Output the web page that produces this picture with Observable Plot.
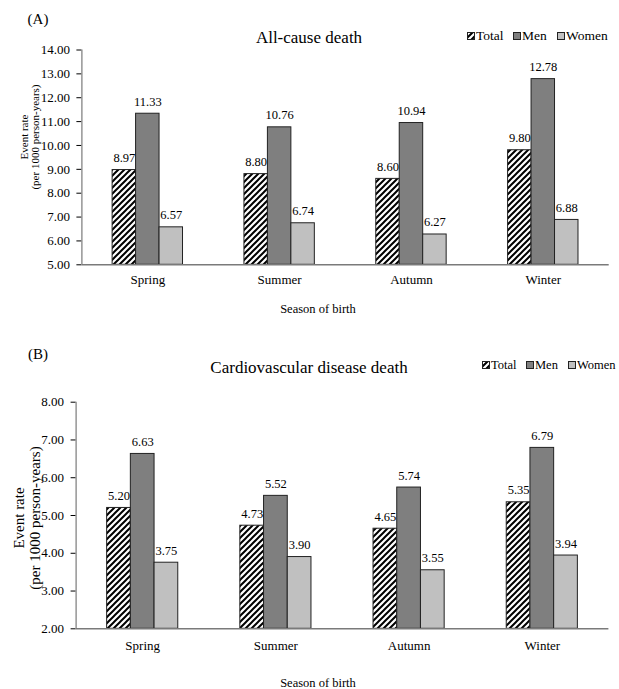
<!DOCTYPE html>
<html><head><meta charset="utf-8">
<script src="https://cdn.jsdelivr.net/npm/d3@7"></script>
<script src="https://cdn.jsdelivr.net/npm/@observablehq/plot@0.6"></script>
<style>
body{margin:0;background:#fff;}
#wrap{position:relative;width:619px;height:689px;font-family:"Liberation Serif","Times New Roman",serif;color:#000;overflow:hidden;background:#fff}
.t{position:absolute;white-space:nowrap;line-height:1;transform:translate(-50%,-50%)}
.l{position:absolute;white-space:nowrap;line-height:1;transform:translate(0,-50%)}
.panel{position:absolute;left:0}
</style></head><body>
<svg width="0" height="0" style="position:absolute">
  <defs>
    <pattern id="hatch" patternUnits="userSpaceOnUse" width="6" height="6">
      <rect width="6" height="6" fill="#fff"/>
      <path d="M-1,1 l2,-2 M0,6 l6,-6 M5,7 l2,-2" stroke="#000" stroke-width="2"/>
    </pattern>
  </defs>
</svg>
<div id="wrap"></div>
<script>
// ---- data ----
const seasons = ["Spring", "Summer", "Autumn", "Winter"];
const groups = ["Total", "Men", "Women"];
const allCauseTotal = [8.97, 8.80, 8.60, 9.80];
const allCauseMen   = [11.33, 10.76, 10.94, 12.78];
const allCauseWomen = [6.57, 6.74, 6.27, 6.88];
const cvdTotal = [5.20, 4.73, 4.65, 5.35];
const cvdMen   = [6.63, 5.52, 5.74, 6.79];
const cvdWomen = [3.75, 3.90, 3.55, 3.94];
const ticksA = [5, 6, 7, 8, 9, 10, 11, 12, 13, 14];
const ticksB = [2, 3, 4, 5, 6, 7, 8];

const wrap = document.getElementById("wrap");
const fills = {Total: "url(#hatch)", Men: "#7f7f7f", Women: "#c0c0c0"};
const offs = {Total: -1, Men: 0, Women: 1};
const bw = 0.178;

function panel(opts) {
  const vals = {Total: opts.total, Men: opts.men, Women: opts.women};
  const rows = [];
  seasons.forEach((s, i) => groups.forEach(g => rows.push({season: s, i, group: g, v: vals[g][i]})));
  const cx = d => d.i + offs[d.group] * bw;
  const marks = groups.map(g => Plot.rectY(rows.filter(d => d.group === g), {
    x1: d => cx(d) - bw / 2, x2: d => cx(d) + bw / 2, y1: opts.yMin, y2: "v",
    fill: fills[g], stroke: "#222", strokeWidth: 1
  }));
  marks.push(
    Plot.text(rows, {x: cx, y: "v", text: d => d.v.toFixed(2), dy: -12, fontSize: 12.5}),
    Plot.ruleY([opts.yMin], {stroke: "#7a7a7a", strokeWidth: 1.5}),
    Plot.ruleX([-0.5], {y1: opts.yMin, y2: opts.yMax, stroke: "#7a7a7a", strokeWidth: 1.2})
  );
  const svg = Plot.plot({
    width: 619, height: opts.height,
    marginTop: opts.mt, marginBottom: opts.mb, marginLeft: opts.ml, marginRight: opts.mr,
    style: {fontFamily: '"Liberation Serif","Times New Roman",serif', fontSize: "13px", background: "transparent", color: "#000"},
    x: {type: "linear", domain: [-0.5, 3.5], ticks: [0, 1, 2, 3], tickFormat: i => seasons[i], tickSize: 0, tickPadding: opts.xpad, label: null},
    y: {domain: [opts.yMin, opts.yMax], ticks: opts.ticks, tickFormat: d => d.toFixed(2), tickSize: 5, tickPadding: 7, label: null},
    marks
  });
  svg.classList.add("panel");
  svg.style.top = opts.top + "px";
  wrap.appendChild(svg);
}

panel({total: allCauseTotal, men: allCauseMen, women: allCauseWomen, yMin: 5, yMax: 14, ticks: ticksA,
  top: 0, height: 330, mt: 49.5, mb: 65.7, ml: 81.4, mr: 10.3, xpad: 10});
panel({total: cvdTotal, men: cvdMen, women: cvdWomen, yMin: 2, yMax: 8, ticks: ticksB,
  top: 340, height: 349, mt: 61.7, mb: 60.7, ml: 75.6, mr: 10.6, xpad: 12});

function txt(cls, x, y, s, size, extra) {
  const d = document.createElement("div");
  d.className = cls; d.style.left = x + "px"; d.style.top = y + "px";
  d.style.fontSize = size + "px"; d.textContent = s;
  if (extra) Object.assign(d.style, extra);
  wrap.appendChild(d);
  return d;
}
function swatch(x, y, fill) {
  const s = document.createElementNS("http://www.w3.org/2000/svg", "svg");
  s.setAttribute("width", 8); s.setAttribute("height", 8);
  s.style.position = "absolute"; s.style.left = x + "px"; s.style.top = (y - 4) + "px";
  s.innerHTML = `<rect x="0.5" y="0.5" width="7" height="7" fill="${fill}" stroke="#222" stroke-width="1"/>`;
  wrap.appendChild(s);
}
function legend(items, y, size) {
  items.forEach(([g, bx, tx]) => { swatch(bx, y, fills[g]); txt("l", tx, y, g, size); });
}

// Panel A annotations
txt("t", 38, 19, "(A)", 15);
txt("t", 309, 37, "All-cause death", 17);
legend([["Total", 467, 476], ["Men", 513, 522], ["Women", 557, 566]], 36, 13.5);
txt("t", 24, 137, "Event rate", 11, {transform: "translate(-50%,-50%) rotate(-90deg)"});
txt("t", 35, 137, "(per 1000 person-years)", 11, {transform: "translate(-50%,-50%) rotate(-90deg)"});
txt("t", 318, 309, "Season of birth", 12.5);

// Panel B annotations
txt("t", 38, 354, "(B)", 15);
txt("t", 309, 367, "Cardiovascular disease death", 17);
legend([["Total", 482, 491], ["Men", 526, 535], ["Women", 568, 577]], 365, 12.5);
txt("t", 19, 518, "Event rate", 15, {transform: "translate(-50%,-50%) rotate(-90deg)"});
txt("t", 35, 518, "(per 1000 person-years)", 15, {transform: "translate(-50%,-50%) rotate(-90deg)"});
txt("t", 318, 683, "Season of birth", 12.5);
</script>
</body></html>
